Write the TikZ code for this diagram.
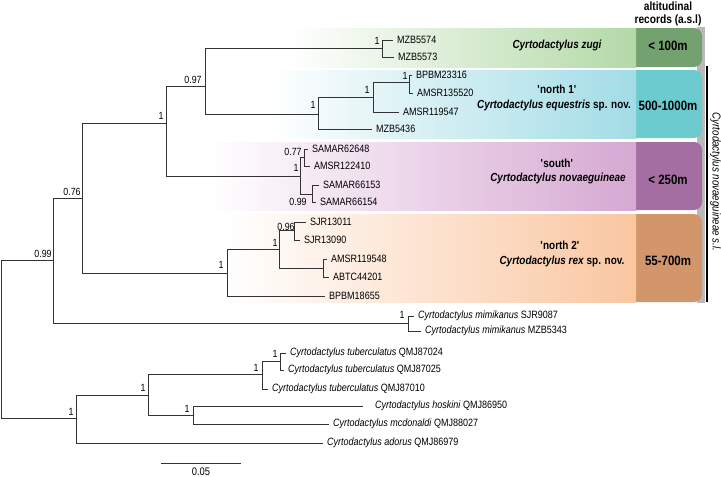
\documentclass[tikz,border=0pt]{standalone}
\usepackage{fontspec}
\setmainfont{Liberation Sans}[FakeStretch=0.85]
\definecolor{gL}{HTML}{B3D9A7}\definecolor{gD}{HTML}{73A270}
\definecolor{cL}{HTML}{A2DCE6}\definecolor{cD}{HTML}{6CCBCF}
\definecolor{pL}{HTML}{D6A8D2}\definecolor{pD}{HTML}{A46EA2}
\definecolor{oL}{HTML}{FAC6A0}\definecolor{oD}{HTML}{D3956A}
\definecolor{treeline}{HTML}{333333}
\begin{document}
\begin{tikzpicture}[x=1pt,y=-1pt,
  br/.style={line width=0.95pt, draw=treeline},
  tax/.style={anchor=west, inner sep=0pt, xshift=4pt, font=\fontsize{10.6}{12}\selectfont},
  sup/.style={inner sep=0pt, font=\fontsize{10.4}{12}\selectfont},
  band/.style={inner sep=0pt, font=\fontsize{11.7}{13}\selectfont\bfseries},
  alt/.style={inner sep=0pt, font=\fontsize{13.5}{15}\selectfont\bfseries},
  head/.style={inner sep=0pt, font=\fontsize{12}{14}\selectfont\bfseries}]
\useasboundingbox (0,0) rectangle (721,477);
% ---- coloured bands ----
\fill[gray!55] (697,27) rectangle (704.5,303);
\fill[gD, rounded corners=8pt] (620,28) rectangle (702,67);
\shade[left color=white, right color=gL] (290,28) rectangle (636,67);
\fill[cD, rounded corners=8pt] (620,70) rectangle (702,138);
\shade[left color=white, right color=cL] (270,70) rectangle (636,138);
\fill[pD, rounded corners=8pt] (620,142) rectangle (702,210);
\shade[left color=white, right color=pL] (210,142) rectangle (636,210);
\fill[oD, rounded corners=8pt] (620,214) rectangle (702,302);
\shade[left color=white, right color=oL] (225,214) rectangle (636,302);
\draw[line width=1.5pt] (707,66) -- (707,302);
% ---- header and band texts ----
\node[head] (h1) at (668,6) {altitudinal};
\node[head] (h2) at (668,20) {records (a.s.l)};
\node[alt] (a1) at (668,46) {< 100m};
\node[alt] (a2) at (668,106) {500-1000m};
\node[alt] (a3) at (668,180) {< 250m};
\node[alt] (a4) at (668,261) {55-700m};
\node[band] (b1) at (557,45) {\itshape Cyrtodactylus zugi};
\node[band] (b2) at (557,89) {\textquotesingle north 1\textquotesingle};
\node[band] (b3) at (554,105) {\textit{Cyrtodactylus equestris} sp. nov.};
\node[band] (b4) at (557,163) {\textquotesingle south\textquotesingle};
\node[band] (b5) at (558,178) {\itshape Cyrtodactylus novaeguineae};
\node[band] (b6) at (560,245) {\textquotesingle north 2\textquotesingle};
\node[band] (b7) at (562,261) {\textit{Cyrtodactylus rex} sp. nov.};
\node[rotate=-90, inner sep=0pt, font=\fontsize{11.5}{13}\selectfont\itshape] (vl) at (715.5,182) {Cyrtodactylus novaeguineae s.l.};
% ---- internal nodes ----
\coordinate (R) at (1,339);
\coordinate (A) at (53,260);
\coordinate (B) at (82,198);
\coordinate (C) at (166,123);
\coordinate (D) at (205,86);
\coordinate (Z) at (382,48);
\coordinate (N1) at (318,114);
\coordinate (N1a) at (373,97);
\coordinate (BP) at (409,82);
\coordinate (S) at (300,176);
\coordinate (S77) at (304,157);
\coordinate (S99) at (312,194);
\coordinate (N2) at (227,273);
\coordinate (N2a) at (279,249);
\coordinate (S96) at (294,230);
\coordinate (AA) at (323,268);
\coordinate (MIM) at (408,323);
\coordinate (OG) at (76,418);
\coordinate (T) at (148,395);
\coordinate (TU) at (262,374);
\coordinate (TP) at (280,361);
\coordinate (HM) at (193,415);
% ---- tips ----
\coordinate (t1) at (393,40);
\coordinate (t2) at (394,57);
\coordinate (t3) at (412,75);
\coordinate (t4) at (413,93);
\coordinate (t5) at (399,112);
\coordinate (t6) at (372,129);
\coordinate (t7) at (308,149);
\coordinate (t8) at (310,166);
\coordinate (t9) at (319,185);
\coordinate (t10) at (316,202);
\coordinate (t11) at (306,222);
\coordinate (t12) at (300,240);
\coordinate (t13) at (327,259);
\coordinate (t14) at (329,277);
\coordinate (t15) at (325,296);
\coordinate (t16) at (414,316);
\coordinate (t17) at (421,331);
\coordinate (t18) at (286,353);
\coordinate (t19) at (284,370);
\coordinate (t20) at (268,389);
\coordinate (t21) at (363,406);
\coordinate (t22) at (329,424);
\coordinate (t23) at (323,443);
% ---- branches ----
\draw[br] (R) |- (A); \draw[br] (R) |- (OG);
\draw[br] (A) |- (B); \draw[br] (A) |- (MIM);
\draw[br] (B) |- (C); \draw[br] (B) |- (N2);
\draw[br] (C) |- (D); \draw[br] (C) |- (S);
\draw[br] (D) |- (Z); \draw[br] (D) |- (N1);
\draw[br] (Z) |- (t1); \draw[br] (Z) |- (t2);
\draw[br] (N1) |- (N1a); \draw[br] (N1) |- (t6);
\draw[br] (N1a) |- (BP); \draw[br] (N1a) |- (t5);
\draw[br] (BP) |- (t3); \draw[br] (BP) |- (t4);
\draw[br] (S) |- (S77); \draw[br] (S) |- (S99);
\draw[br] (S77) |- (t7); \draw[br] (S77) |- (t8);
\draw[br] (S99) |- (t9); \draw[br] (S99) |- (t10);
\draw[br] (N2) |- (N2a); \draw[br] (N2) |- (t15);
\draw[br] (N2a) |- (S96); \draw[br] (N2a) |- (AA);
\draw[br] (S96) |- (t11); \draw[br] (S96) |- (t12);
\draw[br] (AA) |- (t13); \draw[br] (AA) |- (t14);
\draw[br] (MIM) |- (t16); \draw[br] (MIM) |- (t17);
\draw[br] (OG) |- (T); \draw[br] (OG) |- (t23);
\draw[br] (T) |- (TU); \draw[br] (T) |- (HM);
\draw[br] (TU) |- (TP); \draw[br] (TU) |- (t20);
\draw[br] (TP) |- (t18); \draw[br] (TP) |- (t19);
\draw[br] (HM) |- (t21); \draw[br] (HM) |- (t22);
% ---- tip labels ----
\node[tax] (l1) at (t1) {MZB5574};
\node[tax] (l2) at (t2) {MZB5573};
\node[tax] (l3) at (t3) {BPBM23316};
\node[tax] (l4) at (t4) {AMSR135520};
\node[tax] (l5) at (t5) {AMSR119547};
\node[tax] (l6) at (t6) {MZB5436};
\node[tax] (l7) at (t7) {SAMAR62648};
\node[tax] (l8) at (t8) {AMSR122410};
\node[tax] (l9) at (t9) {SAMAR66153};
\node[tax] (l10) at (t10) {SAMAR66154};
\node[tax] (l11) at (t11) {SJR13011};
\node[tax] (l12) at (t12) {SJR13090};
\node[tax] (l13) at (t13) {AMSR119548};
\node[tax] (l14) at (t14) {ABTC44201};
\node[tax] (l15) at (t15) {BPBM18655};
\node[tax] (l16) at (t16) {\textit{Cyrtodactylus mimikanus} SJR9087};
\node[tax] (l17) at (t17) {\textit{Cyrtodactylus mimikanus} MZB5343};
\node[tax] (l18) at (t18) {\textit{Cyrtodactylus tuberculatus} QMJ87024};
\node[tax] (l19) at (t19) {\textit{Cyrtodactylus tuberculatus} QMJ87025};
\node[tax] (l20) at (t20) {\textit{Cyrtodactylus tuberculatus} QMJ87010};
\node[tax, xshift=8pt] (l21) at (t21) {\textit{Cyrtodactylus hoskini} QMJ86950};
\node[tax] (l22) at (t22) {\textit{Cyrtodactylus mcdonaldi} QMJ88027};
\node[tax] (l23) at (t23) {\textit{Cyrtodactylus adorus} QMJ86979};
% ---- support values ----
\node[sup] (s1) at (43,254) {0.99};
\node[sup] (s2) at (72,192) {0.76};
\node[sup] (s3) at (161,116) {1};
\node[sup] (s4) at (193,80) {0.97};
\node[sup] (s5) at (377,41) {1};
\node[sup] (s6) at (313,105) {1};
\node[sup] (s7) at (367,90) {1};
\node[sup] (s8) at (405,76) {1};
\node[sup] (s9) at (293,152) {0.77};
\node[sup] (s10) at (296,168) {1};
\node[sup] (s11) at (298,202) {0.99};
\node[sup] (s12) at (286,227) {0.96};
\node[sup] (s13) at (275,243) {1};
\node[sup] (s14) at (221,265) {1};
\node[sup] (s15) at (402,315) {1};
\node[sup] (s16) at (71,412) {1};
\node[sup] (s17) at (143,388) {1};
\node[sup] (s18) at (256,368) {1};
\node[sup] (s19) at (275,354) {1};
\node[sup] (s20) at (187,409) {1};
% ---- scale bar ----
\coordinate (sb1) at (161,463);
\coordinate (sb2) at (241,463);
\draw[br] (sb1) -- (sb2);
\node[inner sep=0pt, font=\fontsize{11}{13}\selectfont] (sbl) at (201,472) {0.05};
\end{tikzpicture}
\end{document}
